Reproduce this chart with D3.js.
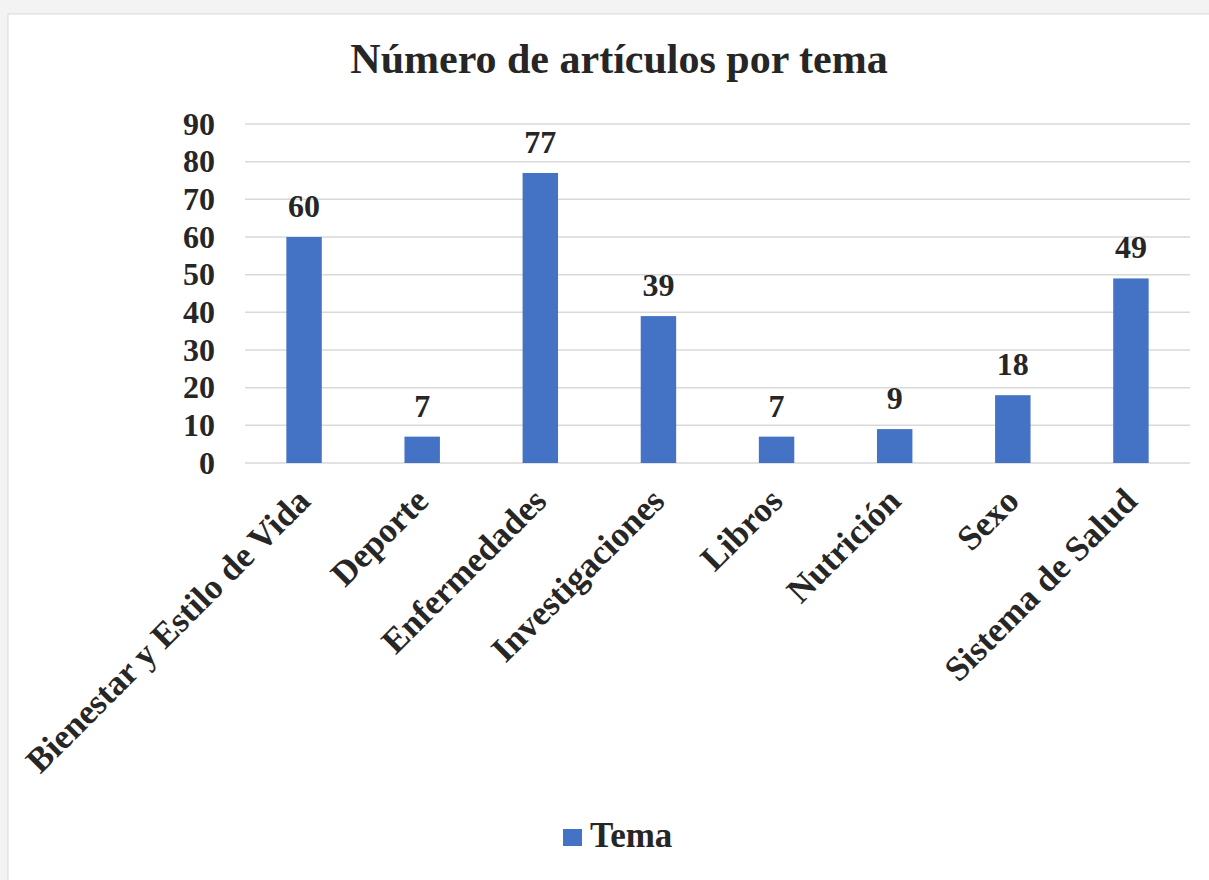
<!DOCTYPE html>
<html>
<head>
<meta charset="utf-8">
<script type="text/javascript" src="https://d3js.org/d3.v7.min.js"></script>
<title>Número de artículos por tema</title>
<style>
  body { margin:0; background:#f3f3f3; }
</style>
</head>
<body>
<div id="chart"></div>
<script type="text/javascript">
var categories = ["Bienestar y Estilo de Vida", "Deporte", "Enfermedades", "Investigaciones",
                  "Libros", "Nutrición", "Sexo", "Sistema de Salud"];
var values = [60, 7, 77, 39, 7, 9, 18, 49];
var yTicks = [0, 10, 20, 30, 40, 50, 60, 70, 80, 90];
var seriesName = "Tema";
var title = "Número de artículos por tema";

(function(){
  var W = 1209, H = 880;
  var left = 245, right = 1190, top = 124, bottom = 463;
  var font = "'Liberation Serif', 'Times New Roman', serif";
  var blue = "#4472c4";
  var ink = "#262626";

  var svg = d3.select("#chart").append("svg")
      .attr("width", W).attr("height", H);

  // white chart panel
  svg.append("rect")
     .attr("x", 8).attr("y", 14).attr("width", W).attr("height", H)
     .attr("fill", "#fff").attr("stroke", "#d9d9d9");

  var x = d3.scaleBand().domain(categories).range([left, right]);
  var y = d3.scaleLinear().domain([0, 90]).range([bottom, top]);
  var barW = x.bandwidth() * 0.3;

  // gridlines
  svg.append("g").selectAll("line")
     .data(yTicks).enter().append("line")
     .attr("x1", left).attr("x2", right)
     .attr("y1", function(d){ return y(d); })
     .attr("y2", function(d){ return y(d); })
     .attr("stroke", "#d9d9d9").attr("stroke-width", 1.5);

  // y axis labels
  var yAxis = d3.axisLeft(y).tickValues(yTicks).tickSize(0).tickPadding(30);
  var ya = svg.append("g").attr("transform", "translate(" + left + ",0)").call(yAxis);
  ya.select(".domain").remove();
  ya.selectAll("text")
    .attr("font-family", font).attr("font-weight", "bold")
    .attr("font-size", 32).attr("fill", ink);

  // bars
  svg.append("g").selectAll("rect")
     .data(values).enter().append("rect")
     .attr("x", function(d, i){ return x(categories[i]) + (x.bandwidth() - barW) / 2; })
     .attr("y", function(d){ return y(d); })
     .attr("width", barW)
     .attr("height", function(d){ return y(0) - y(d); })
     .attr("fill", blue);

  // data labels
  svg.append("g").selectAll("text")
     .data(values).enter().append("text")
     .text(function(d){ return d; })
     .attr("x", function(d, i){ return x(categories[i]) + x.bandwidth() / 2; })
     .attr("y", function(d){ return y(d) - 20; })
     .attr("text-anchor", "middle")
     .attr("font-family", font).attr("font-weight", "bold")
     .attr("font-size", 32).attr("fill", ink);

  // x axis labels, rotated
  var xAxis = d3.axisBottom(x).tickSize(0).tickPadding(0);
  var xa = svg.append("g").attr("transform", "translate(0," + bottom + ")").call(xAxis);
  xa.select(".domain").remove();
  xa.selectAll("text")
    .attr("font-family", font).attr("font-weight", "bold")
    .attr("font-size", 35).attr("fill", ink)
    .attr("text-anchor", "end")
    .attr("dy", 0)
    .attr("transform", "translate(8,40) rotate(-45)");

  // title
  svg.append("text")
     .text(title)
     .attr("x", 619).attr("y", 73)
     .attr("text-anchor", "middle")
     .attr("font-family", font).attr("font-weight", "bold")
     .attr("font-size", 42).attr("fill", ink);

  // legend
  svg.append("rect")
     .attr("x", 563).attr("y", 829).attr("width", 19).attr("height", 17)
     .attr("fill", blue);
  svg.append("text")
     .text(seriesName)
     .attr("x", 590).attr("y", 847)
     .attr("font-family", font).attr("font-weight", "bold")
     .attr("font-size", 35).attr("fill", ink);
})();
</script>
</body>
</html>
